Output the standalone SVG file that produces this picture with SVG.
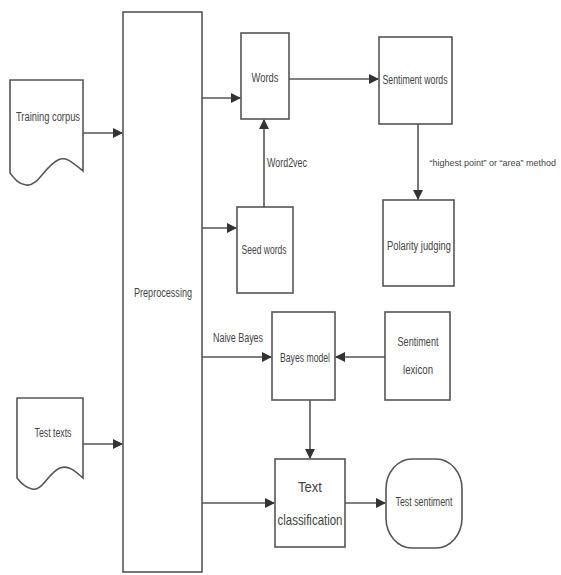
<svg xmlns="http://www.w3.org/2000/svg" width="561" height="575" viewBox="0 0 561 575">
<style>
.box{fill:#fff;stroke:#555;stroke-width:1.6}
.ln{fill:none;stroke:#555;stroke-width:1.6}
.t{font-family:"Liberation Sans",Arial,sans-serif;font-size:12px;fill:#444;text-anchor:middle}
.b{font-size:15px}
.s{font-size:9px;text-anchor:end}
</style>
<defs>
<marker id="ah" markerWidth="10" markerHeight="10" refX="9" refY="5" orient="auto" markerUnits="userSpaceOnUse">
<path d="M0,0 L10,5 L0,10 Z" fill="#333"/>
</marker>
</defs>
<rect width="561" height="575" fill="#fff"/>
<g id="preprocessing">
<rect class="box" x="123" y="12" width="79" height="560"/>
<text class="t" x="163" y="297" textLength="58" lengthAdjust="spacingAndGlyphs">Preprocessing</text>
</g>
<g id="training-corpus">
<path class="box" d="M10,80 H83 V171 C72,162 66,156 58,160 C44,167 38,187 26,185 C18,184 14,178 10,173 Z"/>
<text class="t" x="48" y="121" textLength="64" lengthAdjust="spacingAndGlyphs">Training corpus</text>
</g>
<g id="test-texts">
<path class="box" d="M17,398 H83 V478 C74,470 68,465 60,468 C48,473 42,492 32,489 C24,487 20,482 17,478 Z"/>
<text class="t" x="53" y="437" textLength="37" lengthAdjust="spacingAndGlyphs">Test texts</text>
</g>
<g id="words">
<rect class="box" x="241" y="33" width="48" height="86"/>
<text class="t" x="265" y="82" textLength="27" lengthAdjust="spacingAndGlyphs">Words</text>
</g>
<g id="seed-words">
<rect class="box" x="237" y="207" width="56" height="86"/>
<text class="t" x="264" y="254" textLength="45" lengthAdjust="spacingAndGlyphs">Seed words</text>
</g>
<g id="sentiment-words">
<rect class="box" x="379" y="37" width="73" height="87"/>
<text class="t" x="415" y="84" textLength="65" lengthAdjust="spacingAndGlyphs">Sentiment words</text>
</g>
<g id="polarity-judging">
<rect class="box" x="383" y="200" width="71" height="86"/>
<text class="t" x="419" y="250" textLength="64" lengthAdjust="spacingAndGlyphs">Polarity judging</text>
</g>
<g id="bayes-model">
<rect class="box" x="272" y="312" width="63" height="88"/>
<text class="t" x="305" y="362" textLength="50" lengthAdjust="spacingAndGlyphs">Bayes model</text>
</g>
<g id="sentiment-lexicon">
<rect class="box" x="385" y="312" width="65" height="88"/>
<text class="t" x="418" y="346" textLength="41" lengthAdjust="spacingAndGlyphs">Sentiment</text>
<text class="t" x="418" y="374" textLength="30" lengthAdjust="spacingAndGlyphs">lexicon</text>
</g>
<g id="text-classification">
<rect class="box" x="275" y="459" width="70" height="88"/>
<text class="t b" x="310" y="492" textLength="24" lengthAdjust="spacingAndGlyphs">Text</text>
<text class="t b" x="310" y="525" textLength="65" lengthAdjust="spacingAndGlyphs">classification</text>
</g>
<g id="test-sentiment">
<rect class="box" x="386" y="459" width="76" height="89" rx="26" ry="30"/>
<text class="t" x="424" y="506" textLength="57" lengthAdjust="spacingAndGlyphs">Test sentiment</text>
</g>
<g id="connectors">
<line class="ln" x1="83" y1="133" x2="122" y2="133" marker-end="url(#ah)"/>
<line class="ln" x1="83" y1="444" x2="122" y2="444" marker-end="url(#ah)"/>
<line class="ln" x1="202" y1="98" x2="240" y2="98" marker-end="url(#ah)"/>
<line class="ln" x1="202" y1="228" x2="236" y2="228" marker-end="url(#ah)"/>
<line class="ln" x1="264" y1="207" x2="264" y2="120" marker-end="url(#ah)"/>
<line class="ln" x1="289" y1="79" x2="378" y2="79" marker-end="url(#ah)"/>
<line class="ln" x1="418" y1="124" x2="418" y2="199" marker-end="url(#ah)"/>
<line class="ln" x1="202" y1="357" x2="271" y2="357" marker-end="url(#ah)"/>
<line class="ln" x1="385" y1="357" x2="336" y2="357" marker-end="url(#ah)"/>
<line class="ln" x1="310" y1="400" x2="310" y2="458" marker-end="url(#ah)"/>
<line class="ln" x1="202" y1="503" x2="274" y2="503" marker-end="url(#ah)"/>
<line class="ln" x1="345" y1="503" x2="385" y2="503" marker-end="url(#ah)"/>
<text class="t" x="287" y="167" textLength="40" lengthAdjust="spacingAndGlyphs">Word2vec</text>
<text class="t s" x="556" y="166">“highest point” or “area” method</text>
<text class="t" x="238" y="342" textLength="50" lengthAdjust="spacingAndGlyphs">Naive Bayes</text>
</g>
</svg>
